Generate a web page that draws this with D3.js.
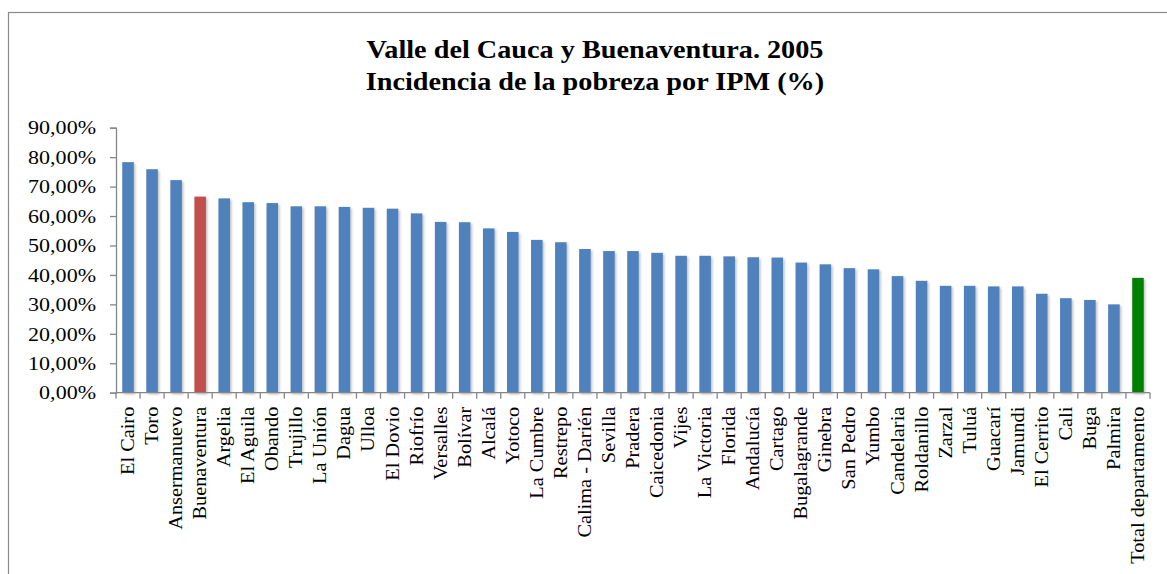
<!DOCTYPE html>
<html>
<head>
<meta charset="utf-8">
<script src="https://cdn.jsdelivr.net/npm/d3@7"></script>
<style>
  body { margin: 0; background: #fff; }
  svg { display: block; }
</style>
</head>
<body>
<svg id="chart"></svg>
<script>
// municipios (orden del gráfico)
const municipios = ["El Cairo", "Toro", "Ansermanuevo", "Buenaventura", "Argelia", "El Aguila",
  "Obando", "Trujillo", "La Unión", "Dagua", "Ulloa", "El Dovio", "Riofrío", "Versalles",
  "Bolívar", "Alcalá", "Yotoco", "La Cumbre", "Restrepo", "Calima - Darién", "Sevilla",
  "Pradera", "Caicedonia", "Vijes", "La Victoria", "Florida", "Andalucía", "Cartago",
  "Bugalagrande", "Ginebra", "San Pedro", "Yumbo", "Candelaria", "Roldanillo", "Zarzal",
  "Tuluá", "Guacarí", "Jamundi", "El Cerrito", "Cali", "Buga", "Palmira", "Total departamento"];

// incidencia de la pobreza por IPM (%)
const incidencia = [78.3, 75.9, 72.2, 66.6, 66.0, 64.7, 64.4, 63.3, 63.3, 63.1, 62.8, 62.5,
  60.9, 58.0, 57.9, 55.8, 54.6, 51.9, 51.1, 48.8, 48.1, 48.1, 47.5, 46.5, 46.5, 46.3, 46.0,
  45.9, 44.2, 43.6, 42.3, 41.9, 39.6, 38.0, 36.3, 36.3, 36.1, 36.1, 33.6, 32.1, 31.5, 30.0, 39.0];

const yTicks = [0, 10, 20, 30, 40, 50, 60, 70, 80, 90];

const W = 1167, H = 574;
const margin = { top: 127.7, right: 17, bottom: 181.3, left: 116 },
      width = W - margin.left - margin.right,
      height = H - margin.top - margin.bottom;

const serif = "'Liberation Serif', 'DejaVu Serif', serif";
const ancho = 1.13; // Cambria es más ancha que Times: estiramos el texto en horizontal

const root = d3.select("#chart").attr("width", W).attr("height", H);

// marco del gráfico (se sale por la derecha y por abajo)
root.append("rect")
    .attr("x", 8.5).attr("y", 12.5)
    .attr("width", W + 20).attr("height", H + 20)
    .attr("fill", "none")
    .attr("stroke", "#8a8a8a")
    .attr("stroke-width", 1.2);

const defs = root.append("defs");
const shadow = defs.append("filter").attr("id", "sombra")
    .attr("x", "-30%").attr("y", "-10%").attr("width", "170%").attr("height", "130%");
shadow.append("feDropShadow")
    .attr("dx", 1.5).attr("dy", 1.5).attr("stdDeviation", 1.2)
    .attr("flood-color", "#000").attr("flood-opacity", 0.25);

// título
const title = root.append("text")
    .attr("transform", `translate(595,58) scale(${ancho},1)`)
    .attr("text-anchor", "middle")
    .style("font-family", serif)
    .style("font-weight", "bold")
    .style("font-size", "25px")
    .style("fill", "#000");
title.append("tspan").attr("x", 0).text("Valle del Cauca y Buenaventura. 2005");
title.append("tspan").attr("x", 0).attr("dy", 32).text("Incidencia de la pobreza por IPM (%)");

const svg = root.append("g")
    .attr("transform", `translate(${margin.left},${margin.top})`);

const x = d3.scaleBand()
    .domain(municipios)
    .range([0, width])
    .paddingInner(0.52)
    .paddingOuter(0.26);

const y = d3.scaleLinear()
    .domain([0, 90])
    .range([height, 0]);

const fmt = d => d3.format(".2f")(d).replace(".", ",") + "%";

// eje Y
const yAxis = svg.append("g")
    .call(d3.axisLeft(y).tickValues(yTicks).tickFormat(fmt).tickSize(6).tickPadding(14));
yAxis.select(".domain").attr("stroke", "#868686").attr("stroke-width", 1.3);
yAxis.selectAll(".tick line").attr("stroke", "#868686").attr("stroke-width", 1.3);
yAxis.selectAll("text")
    .attr("x", null)
    .attr("transform", `translate(-20,0) scale(${ancho},1)`)
    .style("font-family", serif)
    .style("font-size", "19.5px")
    .style("fill", "#000");

// barras
const colorBarra = d => d === "Buenaventura" ? "#C0504D" : d === "Total departamento" ? "#008000" : "#4F81BD";

svg.selectAll(".bar")
    .data(municipios)
    .enter()
    .append("rect")
    .attr("class", "bar")
    .attr("x", d => x(d))
    .attr("width", x.bandwidth())
    .attr("y", (d, i) => y(incidencia[i]))
    .attr("height", (d, i) => height - y(incidencia[i]))
    .attr("fill", colorBarra)
    .attr("filter", "url(#sombra)");

// eje X (marcas entre categorías)
const xAxis = svg.append("g")
    .attr("transform", `translate(0,${height})`);
xAxis.append("line")
    .attr("x1", 0).attr("x2", width)
    .attr("stroke", "#868686").attr("stroke-width", 1.3);
const step = x.step();
const bordes = d3.range(municipios.length + 1).map(i => i * step);
xAxis.selectAll(".tk")
    .data(bordes)
    .enter()
    .append("line")
    .attr("class", "tk")
    .attr("x1", d => d).attr("x2", d => d)
    .attr("y1", 0).attr("y2", 6)
    .attr("stroke", "#868686").attr("stroke-width", 1.3);

xAxis.selectAll(".lbl")
    .data(municipios)
    .enter()
    .append("text")
    .attr("class", "lbl")
    .attr("transform", d => `translate(${x(d) + x.bandwidth() / 2 + 6},14) rotate(-90) scale(${ancho},1)`)
    .attr("text-anchor", "end")
    .style("font-family", serif)
    .style("font-size", "18px")
    .style("fill", "#000")
    .text(d => d);
</script>
</body>
</html>
